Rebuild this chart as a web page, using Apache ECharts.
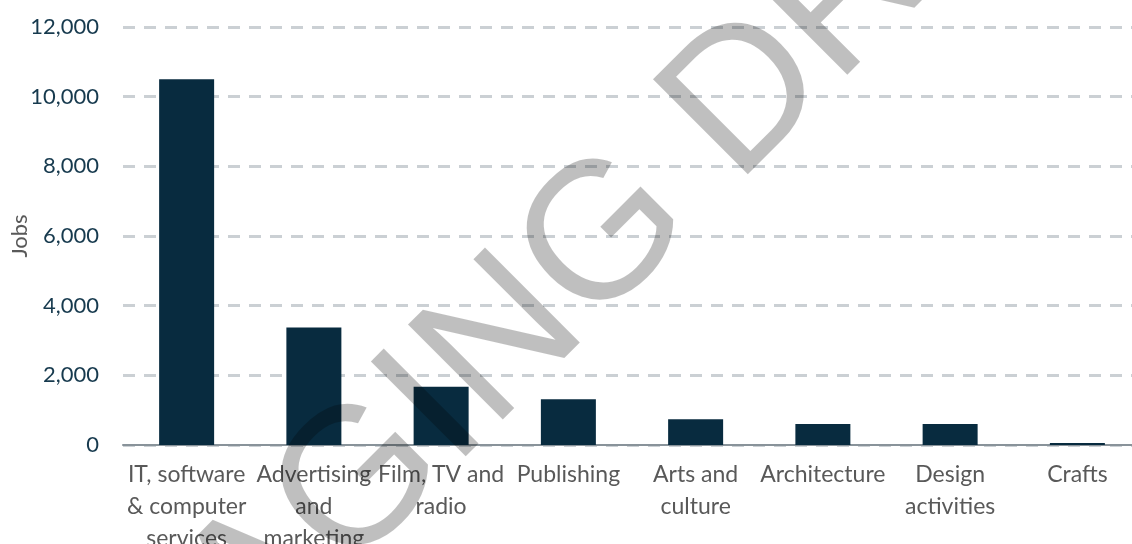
<!DOCTYPE html>
<html>
<head>
<meta charset="utf-8">
<script src="https://cdn.jsdelivr.net/npm/echarts@6/dist/echarts.min.js"></script>
<style>
  html, body { margin: 0; padding: 0; background: #fff; }
  #chart { width: 1132px; height: 544px; }
</style>
</head>
<body>
<div id="chart"></div>
<script>
// data
var categories = [
  "IT, software\n& computer\nservices",
  "Advertising\nand\nmarketing",
  "Film, TV and\nradio",
  "Publishing",
  "Arts and\nculture",
  "Architecture",
  "Design\nactivities",
  "Crafts"
];
var jobs = [10500, 3370, 1670, 1310, 740, 600, 600, 55];
var yMin = 0;
var yMax = 12000;
var yStep = 2000;
var axisName = "Jobs";
var watermark = "STAGING DRAFT";

var myChart = echarts.init(document.getElementById("chart"));

var chartoptions = {
  animation: false,
  textStyle: { fontFamily: "Lato" },
  grid: {
    left: 123,
    right: -9,
    top: 27,
    bottom: 99,
    outerBoundsMode: "none",
    containLabel: false
  },
  xAxis: {
    type: "category",
    data: categories,
    axisTick: { show: false },
    axisLine: { lineStyle: { color: "#89939a", width: 2 } },
    axisLabel: {
      interval: 0,
      margin: 14,
      fontSize: 23,
      lineHeight: 32,
      color: "#595959",
      fontFamily: "Lato"
    }
  },
  yAxis: {
    type: "value",
    min: yMin,
    max: yMax,
    interval: yStep,
    name: axisName,
    nameLocation: "middle",
    nameGap: 92,
    nameRotate: 90,
    nameMoveOverlap: false,
    nameTextStyle: { fontSize: 22, color: "#595959", fontFamily: "Lato" },
    axisLine: { show: false },
    axisTick: { show: false },
    axisLabel: {
      margin: 24,
      fontSize: 22,
      color: "#173a4e",
      fontFamily: "Lato",
      formatter: function (v) {
        return v.toLocaleString("en-US");
      }
    },
    splitLine: {
      lineStyle: { color: "#cbd0d4", width: 3, type: [12, 9] }
    }
  },
  series: [
    {
      type: "bar",
      data: jobs,
      barWidth: 55,
      itemStyle: { color: "#082b3f" }
    }
  ],
  // watermark over the plot
  graphic: [
    {
      type: "text",
      x: 604,
      y: 242,
      rotation: Math.PI / 4,
      z: 100,
      silent: true,
      style: {
        text: watermark,
        fontSize: 195,
        fontFamily: "Liberation Sans",
        fill: "rgba(0,0,0,0.25)",
        align: "center",
        verticalAlign: "middle"
      }
    }
  ]
};

myChart.setOption(chartoptions);
</script>
</body>
</html>
